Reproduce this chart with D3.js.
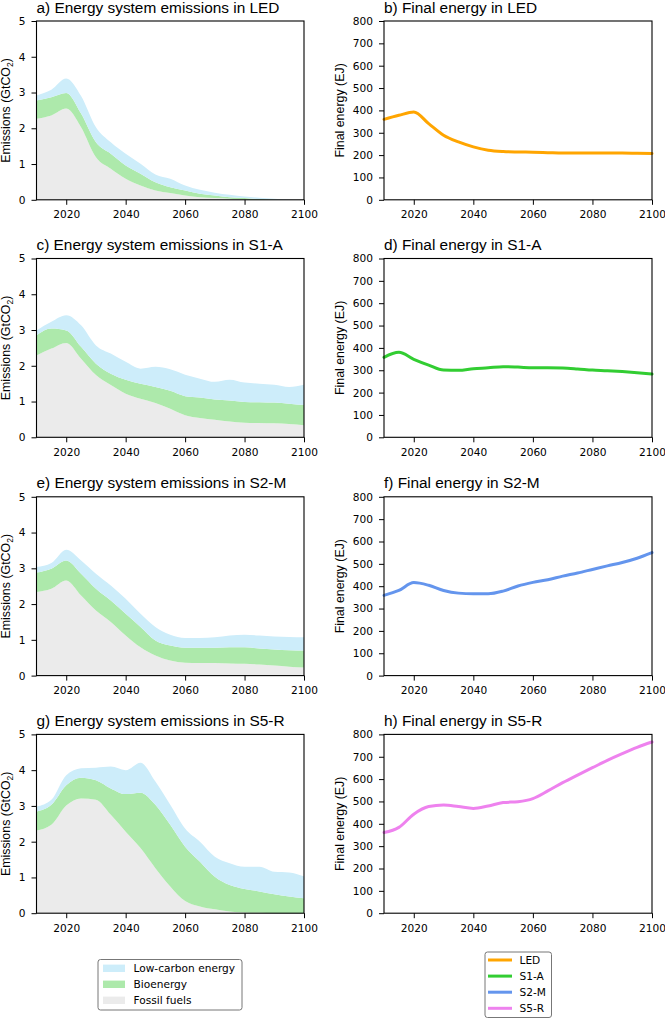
<!DOCTYPE html>
<html><head><meta charset="utf-8">
<script src="https://cdn.jsdelivr.net/npm/d3@7"></script>
<style>
html,body{margin:0;padding:0;background:#fff;}
</style></head>
<body><svg id="chart" width="665" height="1019"></svg>
<script>
// ---------- DATA ----------
const years = [2010,2015,2020,2025,2030,2035,2040,2045,2050,2055,2060,2065,2070,2075,2080,2085,2090,2095,2100];
const scenarios = ["LED","S1-A","S2-M","S5-R"];
const panelLetters = [["a","b"],["c","d"],["e","f"],["g","h"]];

// Emission components (GtCO2), stacked: fossil, bioenergy, low-carbon
const ledFossil = [2.27,2.36,2.55,2.03,1.19,0.87,0.59,0.40,0.26,0.19,0.12,0.07,0.05,0.03,0.01,0,0,0,0];
const ledBio    = [0.51,0.51,0.44,0.38,0.42,0.42,0.37,0.33,0.23,0.16,0.14,0.10,0.07,0.04,0.04,0.02,0.01,0,0];
const ledLow    = [0.14,0.21,0.40,0.49,0.42,0.32,0.33,0.28,0.22,0.24,0.14,0.11,0.08,0.07,0.04,0.04,0.02,0.01,0];

const s1Fossil = [2.29,2.48,2.64,2.20,1.74,1.46,1.22,1.08,0.96,0.80,0.62,0.54,0.49,0.44,0.41,0.40,0.39,0.37,0.34];
const s1Bio    = [0.56,0.56,0.35,0.33,0.32,0.32,0.39,0.42,0.45,0.50,0.53,0.57,0.57,0.59,0.58,0.58,0.58,0.57,0.56];
const s1Low    = [0.14,0.19,0.42,0.60,0.51,0.56,0.50,0.42,0.56,0.60,0.60,0.53,0.49,0.58,0.54,0.52,0.50,0.47,0.57];

const s2Fossil = [2.34,2.43,2.66,2.24,1.82,1.50,1.12,0.79,0.56,0.42,0.36,0.35,0.35,0.34,0.33,0.31,0.28,0.25,0.23];
const s2Bio    = [0.54,0.56,0.56,0.61,0.61,0.60,0.61,0.57,0.42,0.42,0.42,0.43,0.43,0.45,0.46,0.45,0.45,0.46,0.47];
const s2Low    = [0.16,0.16,0.30,0.37,0.42,0.42,0.42,0.37,0.38,0.30,0.27,0.27,0.29,0.33,0.35,0.36,0.36,0.37,0.37];

const s5Fossil = [2.31,2.47,3.01,3.21,3.17,2.75,2.28,1.82,1.26,0.75,0.34,0.19,0.11,0.05,0.02,0.01,0,0,0];
const s5Bio    = [0.53,0.56,0.57,0.58,0.55,0.74,1.05,1.55,1.77,1.72,1.52,1.25,0.91,0.74,0.66,0.60,0.53,0.47,0.42];
const s5Low    = [0.14,0.14,0.28,0.26,0.35,0.61,0.67,0.84,0.65,0.56,0.51,0.56,0.56,0.61,0.62,0.69,0.63,0.67,0.61];

// Final energy (EJ)
const ledEnergy = [360,378,393,341,289,259,237,222,216,214,213,211,209,209,209,209,209,208,207];
const s1Energy  = [358,380,349,323,301,300,307,311,316,314,311,311,310,306,301,298,294,289,283];
const s2Energy  = [359,381,416,404,381,369,366,366,378,401,417,429,445,459,475,491,506,525,550];
const s5Energy  = [361,384,443,477,484,477,469,480,495,499,513,547,584,618,651,684,714,742,766];

const emissionKeys = ["fossil","bio","low"];
const emissionLabels = ["Fossil fuels","Bioenergy","Low-carbon energy"];
const emissionTicks = [0,1,2,3,4,5];
const energyTicks = [0,100,200,300,400,500,600,700,800];
const yearTicks = [2020,2040,2060,2080,2100];

// ---------- STYLE ----------
const emissionColors = {fossil:"#ebebeb", bio:"#ade9ab", low:"#cdedfa"};
const lineColors = ["#ffa500","#32cd32","#6495ed","#ee82ee"];
const headFont = "'Liberation Sans', Arial, sans-serif";
const tickFont = "'DejaVu Sans', sans-serif";

const emissionSets = [
  [ledFossil, ledBio, ledLow],
  [s1Fossil, s1Bio, s1Low],
  [s2Fossil, s2Bio, s2Low],
  [s5Fossil, s5Bio, s5Low]
];
const energySets = [ledEnergy, s1Energy, s2Energy, s5Energy];

const svg = d3.select("#chart");
svg.append("rect").attr("width",665).attr("height",1019).attr("fill","#fff");

const leftX = [36.5, 304];
const rightX = [384, 652];
const tops = [21, 258.5, 496.8, 734.4];
const H = 178.8;

const curve = d3.curveMonotoneX;

function drawAxes(g, x, y, yTicks, x0, x1, top) {
  const xa = g.append("g").attr("transform",`translate(0,${top+H})`)
    .call(d3.axisBottom(x).tickValues(yearTicks).tickSize(5).tickPadding(6).tickSizeOuter(0).tickFormat(d3.format("d")));
  const ya = g.append("g").attr("transform",`translate(${x0},0)`)
    .call(d3.axisLeft(y).tickValues(yTicks).tickSize(5).tickPadding(6).tickSizeOuter(0).tickFormat(d3.format("d")));
  [xa,ya].forEach(a=>{
    a.attr("font-family",null).attr("font-size",null);
    a.select(".domain").remove();
    a.selectAll("line").attr("stroke","#000").attr("stroke-width",1);
    a.selectAll("text").style("font-size","10.6px").style("font-family",tickFont).attr("fill","#000");
  });
  g.append("rect").attr("x",x0).attr("y",top).attr("width",x1-x0).attr("height",H)
    .attr("fill","none").attr("stroke","#000").attr("stroke-width",1.1);
}

scenarios.forEach((sc, i) => {
  const top = tops[i];
  // ----- Emissions panel -----
  const gL = svg.append("g");
  const x = d3.scaleLinear().domain([2010,2100]).range(leftX);
  const y = d3.scaleLinear().domain([0,5]).range([top+H, top]);
  const rows = years.map((yr,k)=>({year:yr, fossil:emissionSets[i][0][k], bio:emissionSets[i][1][k], low:emissionSets[i][2][k]}));
  const stacked = d3.stack().keys(emissionKeys)(rows);
  const area = d3.area().x(d=>x(d.data.year)).y0(d=>y(d[0])).y1(d=>y(d[1])).curve(curve);
  gL.selectAll("path.area").data(stacked).join("path").attr("class","area")
    .attr("d",area).attr("fill",d=>emissionColors[d.key]);
  drawAxes(gL, x, y, emissionTicks, leftX[0], leftX[1], top);
  gL.append("text").attr("x",leftX[0]).attr("y",top-8.5)
    .style("font-size","15.4px").style("font-family",headFont).attr("fill","#000")
    .text(`${panelLetters[i][0]}) Energy system emissions in ${sc}`);
  const yl = gL.append("text").attr("transform",`translate(10.3,${top+H/2}) rotate(-90)`)
    .attr("text-anchor","middle").style("font-size","12.4px").style("font-family",headFont).attr("fill","#000");
  yl.append("tspan").text("Emissions (GtCO");
  yl.append("tspan").style("font-size","8.6px").attr("dy","2.6").text("2");
  yl.append("tspan").attr("dy","-2.6").text(")");

  // ----- Energy panel -----
  const gR = svg.append("g");
  const xr = d3.scaleLinear().domain([2010,2100]).range(rightX);
  const yr = d3.scaleLinear().domain([0,800]).range([top+H, top]);
  const line = d3.line().x((d,k)=>xr(years[k])).y(d=>yr(d)).curve(curve);
  gR.append("path").datum(energySets[i]).attr("d",line).attr("fill","none")
    .attr("stroke",lineColors[i]).attr("stroke-width",3).attr("stroke-linecap","round");
  drawAxes(gR, xr, yr, energyTicks, rightX[0], rightX[1], top);
  gR.append("text").attr("x",rightX[0]).attr("y",top-8.5)
    .style("font-size","15.4px").style("font-family",headFont).attr("fill","#000")
    .text(`${panelLetters[i][1]}) Final energy in ${sc}`);
  gR.append("text").attr("transform",`translate(344,${top+H/2}) rotate(-90)`)
    .attr("text-anchor","middle").style("font-size","12.4px").style("font-family",headFont).attr("fill","#000")
    .text("Final energy (EJ)");
});

// ----- Legend 1 -----
const lg1 = svg.append("g");
lg1.append("rect").attr("x",98).attr("y",959.5).attr("width",144).attr("height",50.5).attr("rx",2.5)
  .attr("fill","#fff").attr("stroke","#777").attr("stroke-width",1);
const lg1Order = ["low","bio","fossil"];
lg1Order.forEach((k,j)=>{
  const cy = 968.3 + j*16;
  lg1.append("rect").attr("x",103).attr("y",cy-3.7).attr("width",22).attr("height",7.4).attr("fill",emissionColors[k]);
  lg1.append("text").attr("x",133.5).attr("y",cy).attr("dy","0.36em")
    .style("font-size","10.6px").style("font-family",tickFont).attr("fill","#000")
    .text(emissionLabels[emissionKeys.indexOf(k)]);
});

// ----- Legend 2 -----
const lg2 = svg.append("g");
lg2.append("rect").attr("x",485).attr("y",952).attr("width",66.5).attr("height",65.5).attr("rx",2.5)
  .attr("fill","#fff").attr("stroke","#777").attr("stroke-width",1);
scenarios.forEach((sc,j)=>{
  const cy = 960 + j*16.1;
  lg2.append("line").attr("x1",488).attr("x2",512).attr("y1",cy).attr("y2",cy)
    .attr("stroke",lineColors[j]).attr("stroke-width",3);
  lg2.append("text").attr("x",519.5).attr("y",cy).attr("dy","0.36em")
    .style("font-size","10.6px").style("font-family",tickFont).attr("fill","#000").text(sc);
});
</script></body></html>
